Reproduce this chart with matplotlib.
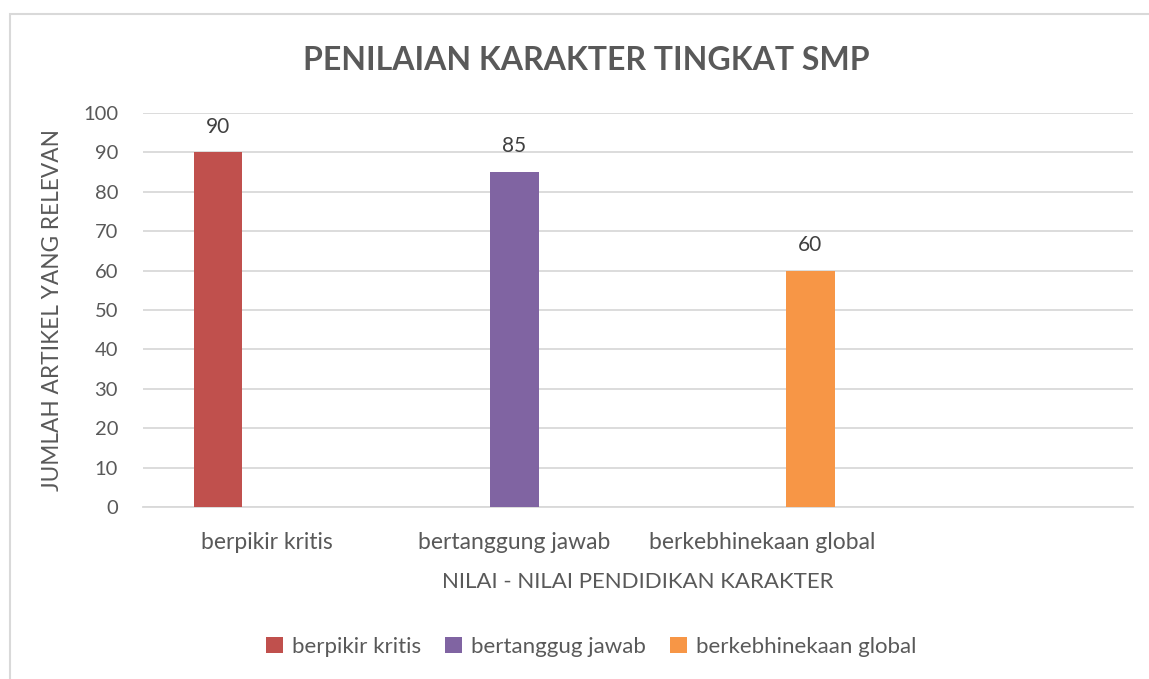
import matplotlib
matplotlib.use("Agg")
import matplotlib.pyplot as plt
import numpy as np
from matplotlib.patches import Rectangle

categories = ["berpikir kritis", "bertanggung jawab", "berkebhinekaan global", ""]
series_names = ["berpikir kritis", "bertanggug jawab", "berkebhinekaan global"]
series_values = [
    [90, 0, 0, 0],
    [0, 85, 0, 0],
    [0, 0, 60, 0],
]
colors = ["#C0504D", "#8064A2", "#F79646"]
yticks = [0, 10, 20, 30, 40, 50, 60, 70, 80, 90, 100]

plt.rcParams['font.family'] = ['Lato', 'DejaVu Sans']
txt = "#595959"

fig = plt.figure(figsize=(11.49, 6.79), dpi=100)
fig.patches.append(Rectangle((10/1149, -0.1), 1.2, (679-14)/679 + 0.1, transform=fig.transFigure,
                             fill=False, edgecolor="#D9D9D9", linewidth=1.5))
ax = fig.add_axes([143/1149, (679-507)/679, (1133-143)/1149, (507-113)/679])

x = np.arange(len(categories))
w = 0.196
for i, (name, vals) in enumerate(zip(series_names, series_values)):
    pos = x + (i - 1) * w
    bars = ax.bar(pos, vals, width=w, color=colors[i], label=name, zorder=3)
    for b, v in zip(bars, vals):
        if v:
            ax.text(b.get_x() + b.get_width() / 2, v + 4.0, str(v), ha="center", va="bottom",
                    fontsize=15, color="#404040")

ax.set_xlim(-0.5, len(categories) - 0.5)
ax.set_ylim(0, 100)
ax.set_yticks(yticks)
ax.set_xticks(x)
ax.set_xticklabels(categories)
ax.grid(axis="y", color="#D9D9D9", linewidth=1.3, zorder=0)
ax.set_axisbelow(True)
for s in ["top", "right", "left"]:
    ax.spines[s].set_visible(False)
ax.spines["bottom"].set_color("#D9D9D9")
ax.spines["bottom"].set_linewidth(1.3)
ax.tick_params(axis="both", length=0, colors=txt)
ax.tick_params(axis="y", pad=18, labelsize=14.5)
ax.tick_params(axis="x", pad=18, labelsize=16.5)

ax.set_xlabel("NILAI - NILAI PENDIDIKAN KARAKTER", fontsize=16, color=txt, labelpad=14)
ax.set_ylabel("JUMLAH ARTIKEL YANG RELEVAN", fontsize=16.3, color=txt, labelpad=14)

fig.text(586/1149, 1 - 60/679, "PENILAIAN KARAKTER TINGKAT SMP", ha="center", va="center",
         fontsize=23, fontweight="bold", color=txt)

leg = fig.legend(loc="center", bbox_to_anchor=(591/1149, 1 - 647/679), ncol=3, frameon=False,
                 fontsize=16, handlelength=0.75, handleheight=0.75, handletextpad=0.4,
                 columnspacing=1.1, labelcolor=txt)

fig.savefig("out.png", dpi=100)
